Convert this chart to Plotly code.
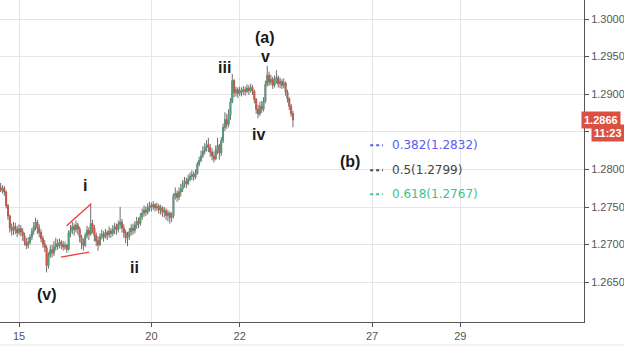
import plotly.graph_objects as go

# hourly bar index (0 = day "15" 00:00), weekends removed
hours = list(range(-10, 150))

closes = [1.2772, 1.2775, 1.2770, 1.2752, 1.2738, 1.2722, 1.2719, 1.2724, 1.2720, 1.2716,
          1.2721, 1.2717, 1.2712, 1.2704, 1.2699, 1.2703, 1.2710, 1.2718, 1.2724, 1.2730,
          1.2722, 1.2716, 1.2708, 1.2701, 1.2696, 1.2672, 1.2686, 1.2693, 1.2689, 1.2697,
          1.2701, 1.2698, 1.2703, 1.2700, 1.2697, 1.2699, 1.2694, 1.2716, 1.2719, 1.2724,
          1.2720, 1.2726, 1.2721, 1.2710, 1.2702, 1.2699, 1.2712, 1.2719, 1.2714, 1.2728,
          1.2722, 1.2712, 1.2705, 1.2700, 1.2710, 1.2714, 1.2710, 1.2716, 1.2713, 1.2718,
          1.2715, 1.2720, 1.2724, 1.2720, 1.2727, 1.2730, 1.2722, 1.2716, 1.2709, 1.2711,
          1.2717, 1.2722, 1.2719, 1.2726, 1.2731, 1.2728, 1.2737, 1.2742, 1.2746, 1.2743,
          1.2749, 1.2752, 1.2750, 1.2753, 1.2749, 1.2751, 1.2746, 1.2749, 1.2743, 1.2745,
          1.2739, 1.2742, 1.2736, 1.2738, 1.2765, 1.2768, 1.2763, 1.2770, 1.2774, 1.2780,
          1.2784, 1.2781, 1.2787, 1.2791, 1.2793, 1.2790, 1.2795, 1.2807, 1.2812, 1.2818,
          1.2824, 1.2829, 1.2833, 1.2829, 1.2823, 1.2818, 1.2814, 1.2826, 1.2832, 1.2822,
          1.2838, 1.2856, 1.2866, 1.2860, 1.2872, 1.2890, 1.2918, 1.2902, 1.2906, 1.2901,
          1.2905, 1.2903, 1.2906, 1.2904, 1.2908, 1.2905, 1.2909, 1.2904, 1.2893, 1.2880,
          1.2874, 1.2884, 1.2880, 1.2891, 1.2913, 1.2925, 1.2916, 1.2920, 1.2912, 1.2918,
          1.2922, 1.2914, 1.2917, 1.2912, 1.2915, 1.2903, 1.2894, 1.2884, 1.2874, 1.2866]

highs = [1.2782, 1.2779, 1.2778, 1.2772, 1.2754, 1.2740, 1.2728, 1.2730, 1.2729, 1.2725,
         1.2727, 1.2726, 1.2722, 1.2716, 1.2709, 1.2710, 1.2714, 1.2722, 1.2730, 1.2736,
         1.2733, 1.2727, 1.2720, 1.2712, 1.2706, 1.2699, 1.2690, 1.2699, 1.2700, 1.2705,
         1.2709, 1.2707, 1.2708, 1.2706, 1.2705, 1.2704, 1.2701, 1.2719, 1.2726, 1.2730,
         1.2728, 1.2732, 1.2729, 1.2724, 1.2713, 1.2708, 1.2716, 1.2725, 1.2723, 1.2755,
         1.2733, 1.2726, 1.2716, 1.2711, 1.2715, 1.2720, 1.2718, 1.2721, 1.2719, 1.2724,
         1.2722, 1.2726, 1.2729, 1.2728, 1.2732, 1.2750, 1.2734, 1.2727, 1.2720, 1.2717,
         1.2722, 1.2727, 1.2728, 1.2731, 1.2737, 1.2736, 1.2742, 1.2748, 1.2752, 1.2751,
         1.2755, 1.2757, 1.2756, 1.2758, 1.2755, 1.2756, 1.2754, 1.2753, 1.2751, 1.2750,
         1.2748, 1.2746, 1.2744, 1.2743, 1.2768, 1.2776, 1.2772, 1.2776, 1.2781, 1.2786,
         1.2790, 1.2789, 1.2793, 1.2796, 1.2799, 1.2797, 1.2800, 1.2810, 1.2817, 1.2825,
         1.2831, 1.2835, 1.2839, 1.2842, 1.2834, 1.2828, 1.2824, 1.2832, 1.2842, 1.2834,
         1.2843, 1.2861, 1.2876, 1.2874, 1.2880, 1.2895, 1.2927, 1.2920, 1.2910, 1.2909,
         1.2910, 1.2909, 1.2911, 1.2910, 1.2913, 1.2912, 1.2914, 1.2912, 1.2906, 1.2895,
         1.2886, 1.2890, 1.2891, 1.2896, 1.2918, 1.2938, 1.2930, 1.2926, 1.2923, 1.2925,
         1.2932, 1.2925, 1.2922, 1.2920, 1.2921, 1.2917, 1.2906, 1.2896, 1.2887, 1.2878]

lows = [1.2770, 1.2768, 1.2765, 1.2748, 1.2733, 1.2716, 1.2712, 1.2713, 1.2714, 1.2710,
        1.2713, 1.2711, 1.2705, 1.2699, 1.2694, 1.2695, 1.2700, 1.2706, 1.2713, 1.2719,
        1.2714, 1.2710, 1.2703, 1.2696, 1.2690, 1.2663, 1.2668, 1.2682, 1.2683, 1.2685,
        1.2692, 1.2693, 1.2695, 1.2694, 1.2692, 1.2693, 1.2689, 1.2692, 1.2710, 1.2714,
        1.2712, 1.2716, 1.2713, 1.2703, 1.2694, 1.2692, 1.2697, 1.2708, 1.2706, 1.2712,
        1.2715, 1.2704, 1.2698, 1.2692, 1.2698, 1.2707, 1.2704, 1.2708, 1.2706, 1.2709,
        1.2709, 1.2711, 1.2714, 1.2713, 1.2716, 1.2721, 1.2716, 1.2709, 1.2702, 1.2698,
        1.2706, 1.2712, 1.2713, 1.2715, 1.2721, 1.2722, 1.2725, 1.2733, 1.2737, 1.2738,
        1.2740, 1.2744, 1.2744, 1.2746, 1.2744, 1.2745, 1.2741, 1.2740, 1.2737, 1.2736,
        1.2733, 1.2731, 1.2728, 1.2730, 1.2735, 1.2760, 1.2757, 1.2759, 1.2764, 1.2770,
        1.2776, 1.2775, 1.2779, 1.2784, 1.2786, 1.2785, 1.2787, 1.2793, 1.2804, 1.2810,
        1.2815, 1.2820, 1.2824, 1.2823, 1.2817, 1.2812, 1.2809, 1.2812, 1.2820, 1.2813,
        1.2818, 1.2835, 1.2851, 1.2854, 1.2856, 1.2866, 1.2888, 1.2896, 1.2897, 1.2895,
        1.2898, 1.2897, 1.2899, 1.2898, 1.2901, 1.2899, 1.2902, 1.2899, 1.2888, 1.2874,
        1.2868, 1.2871, 1.2875, 1.2877, 1.2888, 1.2910, 1.2911, 1.2912, 1.2907, 1.2909,
        1.2914, 1.2909, 1.2908, 1.2907, 1.2908, 1.2898, 1.2889, 1.2879, 1.2870, 1.2856]

first_open = 1.2776
opens = [first_open] + closes[:-1]

# x-axis ticks (trading-day starts, in hours)
tick_hours = [0, 72, 120, 192, 240]
tick_text = ["15", "20", "22", "27", "29"]

y_ticks = [1.2650, 1.2700, 1.2750, 1.2800, 1.2850, 1.2900, 1.2950, 1.3000]
y_tick_text = ["1.2650", "1.2700", "1.2750", "1.2800", "", "1.2900", "1.2950", "1.3000"]

# Elliott wave labels
wave_labels = ["(a)", "v", "iii", "iv", "i", "ii", "(v)", "(b)"]
wave_x = [133.8, 134.0, 112.0, 130.0, 35.9, 63.0, 15.3, 180.0]
wave_y = [1.2975, 1.2950, 1.2935, 1.2847, 1.2778, 1.2669, 1.2634, 1.2810]

# wedge trendlines around wave i
upper_line_x = [25.9, 39.1]
upper_line_y = [1.2725, 1.2754]
lower_line_x = [22.8, 38.2]
lower_line_y = [1.26835, 1.2690]

# Fibonacci retracement levels
fib_ratios = ["0.382", "0.5", "0.618"]
fib_prices = [1.2832, 1.2799, 1.2767]
fib_colors = ["#5b5bf5", "#444444", "#3ec28f"]
fib_x0, fib_x1, fib_text_x = 191.0, 198.0, 202.0

last_price = 1.2866
last_label = "1.2866"
timer_label = "11:23"

FONT = "Liberation Sans, Arial"

fig = go.Figure()

# wicks (gray) – full high/low range
fig.add_trace(go.Candlestick(
    x=hours, open=opens, high=highs, low=lows, close=closes,
    increasing=dict(line=dict(color="#6e6e6e", width=1), fillcolor="#6e6e6e"),
    decreasing=dict(line=dict(color="#6e6e6e", width=1), fillcolor="#6e6e6e"),
    whiskerwidth=0, hoverinfo="skip", showlegend=False,
))
# coloured bodies – open/close range only
body_hi = [max(o, c) for o, c in zip(opens, closes)]
body_lo = [min(o, c) for o, c in zip(opens, closes)]
fig.add_trace(go.Candlestick(
    x=hours, open=opens, high=body_hi, low=body_lo, close=closes,
    increasing=dict(line=dict(color="#4fa67a", width=0.5), fillcolor="#4fa67a"),
    decreasing=dict(line=dict(color="#e0533f", width=0.5), fillcolor="#e0533f"),
    whiskerwidth=0, hoverinfo="skip", showlegend=False,
))

for lx, ly in [(upper_line_x, upper_line_y), (lower_line_x, lower_line_y)]:
    fig.add_trace(go.Scatter(x=lx, y=ly, mode="lines",
                             line=dict(color="#f03a3a", width=1.3),
                             hoverinfo="skip", showlegend=False))

for r, p, c in zip(fib_ratios, fib_prices, fib_colors):
    fig.add_trace(go.Scatter(x=[fib_x0, fib_x1], y=[p, p], mode="lines",
                             line=dict(color=c, width=2, dash="dot"),
                             hoverinfo="skip", showlegend=False))
    fig.add_annotation(x=fib_text_x, y=p, text=f"{r}({p:.4f})", showarrow=False,
                       xanchor="left", yanchor="middle",
                       font=dict(family="DejaVu Sans, Verdana", size=12, color=c))

for t, x, y in zip(wave_labels, wave_x, wave_y):
    fig.add_annotation(x=x, y=y, text=f"<b>{t}</b>", showarrow=False,
                       xanchor="center", yanchor="middle",
                       font=dict(family=FONT, size=16, color="#1a1a1a"))

# last price badge and timer
fig.add_annotation(xref="paper", x=581 / 584, y=last_price, yref="y",
                   text=f"<b>{last_label}</b>", showarrow=False,
                   xanchor="left", yanchor="middle", bgcolor="#db5040", borderpad=2,
                   font=dict(family=FONT, size=11, color="white"))
fig.add_annotation(xref="paper", x=591 / 584, y=last_price, yref="y", yshift=-13,
                   text=f"<b>{timer_label}</b>", showarrow=False,
                   xanchor="left", yanchor="middle", bgcolor="#db5040", borderpad=2,
                   font=dict(family=FONT, size=11, color="white"))

fig.add_shape(type="line", xref="paper", yref="paper", x0=0, x1=624 / 584,
              y0=-23 / 322, y1=-23 / 322, line=dict(color="#e4e4e4", width=1))

fig.update_layout(
    width=624, height=347,
    margin=dict(l=0, r=40, t=0, b=25),
    plot_bgcolor="white", paper_bgcolor="white",
    showlegend=False, hovermode=False,
    xaxis=dict(range=[-10.34, 307.3], tickvals=tick_hours, ticktext=tick_text,
               showgrid=True, gridcolor="#e6e6e6", gridwidth=1, zeroline=False,
               showline=True, linecolor="#555555", linewidth=1,
               ticks="outside", ticklen=4, tickcolor="#555555",
               tickfont=dict(family=FONT, size=11, color="#555555"),
               rangeslider=dict(visible=False), fixedrange=True),
    yaxis=dict(range=[1.25971, 1.30253], side="right", tickvals=y_ticks,
               ticktext=y_tick_text, showgrid=True, gridcolor="#e6e6e6", gridwidth=1,
               zeroline=False, showline=True, linecolor="#555555", linewidth=1,
               ticks="outside", ticklen=4, tickcolor="#555555",
               tickfont=dict(family=FONT, size=11, color="#555555"),
               fixedrange=True),
)

fig.write_html("out.html")
